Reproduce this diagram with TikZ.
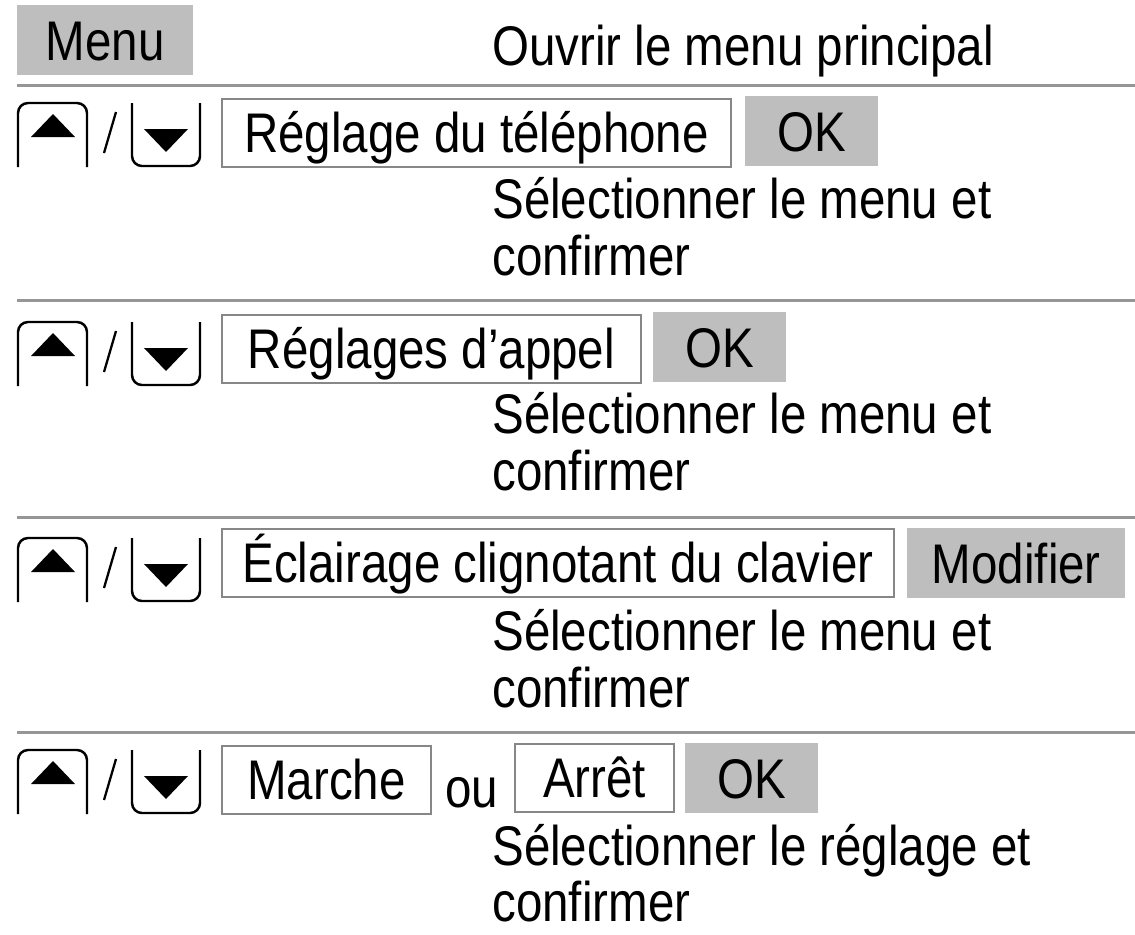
\documentclass[tikz,border=0pt]{standalone}
\usepackage{fontspec}
\setmainfont{Liberation Sans}[FakeStretch=0.85]
\usetikzlibrary{positioning}
\definecolor{keygray}{RGB}{190,190,190}
\definecolor{rulegray}{RGB}{150,150,150}
\definecolor{framegray}{RGB}{135,135,135}

\begin{document}
\begin{tikzpicture}[x=0.02cm, y=-0.02cm,
  every node/.style={font=\fontsize{31.8pt}{38pt}\selectfont, inner sep=0pt},
  entry/.style={draw=framegray, line width=1.1pt, fill=white, anchor=north west,
    text height=0.8cm, text depth=0pt, minimum height=1.36cm, minimum width=#1*0.02cm},
  softkey/.style={fill=keygray, anchor=north west,
    text height=0.8cm, text depth=0pt, minimum height=1.4cm, minimum width=#1*0.02cm},
  txt/.style={anchor=base west},
  arrkey/.style={line width=1.4pt, rounded corners=0.2cm}]
\useasboundingbox (0,0) rectangle (1135,934);

% menu key
\node[softkey=176] (menu) at (17,5){Menu};
\node[txt] (open) at (492,65){Ouvrir le menu principal};

% separators and arrow keys
\foreach \s/\k in {85/103,300/322,517/538,732/750}{
  \draw[rulegray, line width=1.7pt] (17,\s) -- (1135,\s);
  \draw[arrkey] (18,\k+64) -- (18,\k) -- (87,\k) -- (87,\k+64);
  \fill (31,\k+34) -- (75,\k+34) -- (53,\k+11) -- cycle;
  \draw[line width=1.3pt] (104,\k+50) -- (116,\k+9);
  \draw[arrkey] (132,\k) -- (132,\k+63) -- (200,\k+63) -- (200,\k);
  \fill (144,\k+26) -- (188,\k+26) -- (166,\k+49) -- cycle;
}

% phone settings
\node[entry=509] (phone) at (221,98){Réglage du téléphone};
\node[softkey=133] (ok2) at (745,96){OK};
\node[txt] (sel2) at (492,218){Sélectionner le menu et};
\node[txt] (conf2) at (492,275){confirmer};

% call settings
\node[entry=419] (call) at (221,314){Réglages d’appel};
\node[softkey=133] (ok3) at (653,312){OK};
\node[txt] (sel3) at (492,433){Sélectionner le menu et};
\node[txt] (conf3) at (492,490){confirmer};

% keypad light
\node[entry=672] (light) at (221,528){Éclairage clignotant du clavier};
\node[softkey=218] (modify) at (907,528){Modifier};
\node[txt] (sel4) at (492,650){Sélectionner le menu et};
\node[txt] (conf4) at (492,707){confirmer};

% on / off
\node[entry=209] (on) at (221,745){Marche};
\node[txt] (or) at (445,807){ou};
\node[entry=159] (off) at (514,743){Arrêt};
\node[softkey=133] (ok5) at (685,743){OK};
\node[txt] (sel5) at (492,865){Sélectionner le réglage et};
\node[txt] (conf5) at (492,921){confirmer};
\end{tikzpicture}
\end{document}
